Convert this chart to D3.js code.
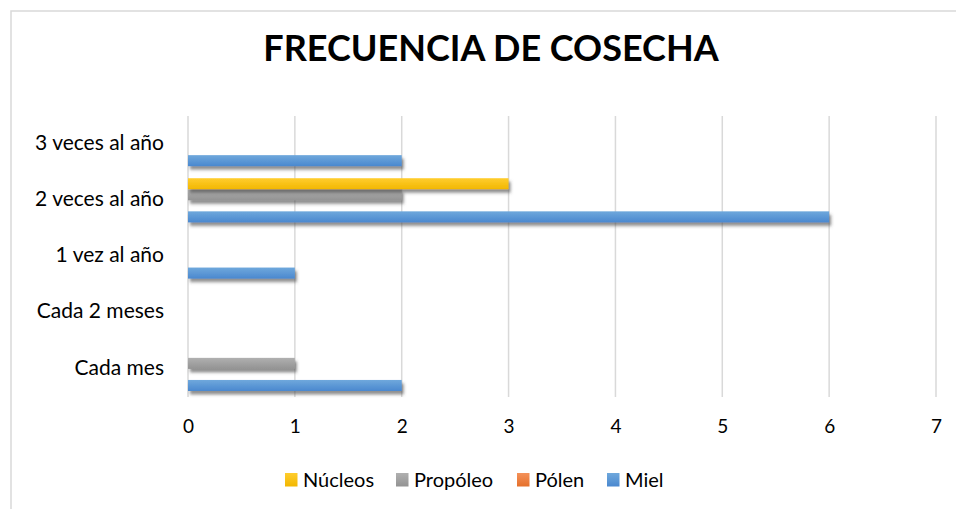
<!DOCTYPE html>
<html><head><meta charset="utf-8">
<script src="https://cdn.jsdelivr.net/npm/d3@7"></script>
<style>body{margin:0;background:#fff;}svg{display:block;}</style>
</head><body>
<svg id="c" width="956" height="509"></svg>
<script>
const categories = ["Cada mes", "Cada 2 meses", "1 vez al año", "2 veces al año", "3 veces al año"];
const seriesNames = ["Miel", "Pólen", "Propóleo", "Núcleos"];
const miel = [2, 0, 1, 6, 2];
const polen = [0, 0, 0, 0, 0];
const propoleo = [1, 0, 0, 2, 0];
const nucleos = [0, 0, 0, 3, 0];
const xTicks = [0, 1, 2, 3, 4, 5, 6, 7];
const legendOrder = ["Núcleos", "Propóleo", "Pólen", "Miel"];
const title = "FRECUENCIA DE COSECHA";

const values = {"Miel": miel, "Pólen": polen, "Propóleo": propoleo, "Núcleos": nucleos};
const colors = {
  "Miel": ["#6fa8dc", "#4a88cf"],
  "Pólen": ["#f4915a", "#e5702a"],
  "Propóleo": ["#b0b0b0", "#939393"],
  "Núcleos": ["#ffcd2e", "#f2b700"]
};
const FONT = "Lato, 'Open Sans', sans-serif";

const svg = d3.select("#c");
const defs = svg.append("defs");
const f = defs.append("filter").attr("id","sh").attr("x","-5%").attr("y","-60%").attr("width","115%").attr("height","260%");
f.append("feDropShadow").attr("dx",2).attr("dy",3.5).attr("stdDeviation",1.8).attr("flood-color","#444").attr("flood-opacity",0.6);
seriesNames.forEach((s,i)=>{
  const g = defs.append("linearGradient").attr("id","g"+i).attr("x1",0).attr("y1",0).attr("x2",0).attr("y2",1);
  g.append("stop").attr("offset","0%").attr("stop-color",colors[s][0]);
  g.append("stop").attr("offset","100%").attr("stop-color",colors[s][1]);
});

// chart border
svg.append("rect").attr("x",11).attr("y",11).attr("width",960).attr("height",520)
  .attr("fill","none").attr("stroke","#d9d9d9").attr("stroke-width",1.5);

const x = d3.scaleLinear().domain([0,7]).range([188,936]);
const y = d3.scaleBand().domain(categories).range([397,116]).padding(0);
const yi = d3.scaleBand().domain(seriesNames.slice().reverse()).range([0,y.bandwidth()]).paddingInner(0).paddingOuter(0.545);

// gridlines
svg.append("g").selectAll("line").data(xTicks).join("line")
  .attr("x1",d=>x(d)).attr("x2",d=>x(d)).attr("y1",116).attr("y2",397)
  .attr("stroke","#d9d9d9").attr("stroke-width",1.5);

// x axis labels
const xAxis = d3.axisBottom(x).tickValues(xTicks).tickSize(0).tickPadding(0).tickFormat(d3.format("d"));
const xg = svg.append("g").attr("transform","translate(0,419)").call(xAxis);
xg.select(".domain").remove();
xg.selectAll("text").attr("font-family",FONT).attr("font-size",19).attr("fill","#000");

// y axis labels
const yAxis = d3.axisLeft(y).tickSize(0).tickPadding(0);
const yg = svg.append("g").attr("transform","translate(164,-1)").call(yAxis);
yg.select(".domain").remove();
yg.selectAll("text").attr("font-family",FONT).attr("font-size",21).attr("fill","#000");

// bars
const bars = svg.append("g");
seriesNames.forEach((s,si)=>{
  bars.append("g").selectAll("rect").data(categories.map((c,i)=>({c, v: values[s][i]})).filter(d=>d.v>0)).join("rect")
    .attr("x",x(0)).attr("y",d=>y(d.c)+yi(s)).attr("width",d=>x(d.v)-x(0)).attr("height",yi.bandwidth())
    .attr("fill","url(#g"+si+")").attr("filter","url(#sh)");
});

// title
svg.append("text").attr("x",491).attr("y",61).attr("text-anchor","middle")
  .attr("font-family",FONT).attr("font-weight","bold").attr("font-size",36).attr("fill","#000").text(title);

// legend
const legX = {"Núcleos":285, "Propóleo":396, "Pólen":517, "Miel":607};
const lg = svg.append("g");
legendOrder.forEach(s=>{
  const si = seriesNames.indexOf(s);
  lg.append("rect").attr("x",legX[s]).attr("y",473).attr("width",12.5).attr("height",13.5).attr("fill","url(#g"+si+")");
  lg.append("text").attr("x",legX[s]+18).attr("y",487).attr("font-family",FONT).attr("font-size",20).attr("fill","#000").text(s);
});
</script>
</body></html>
